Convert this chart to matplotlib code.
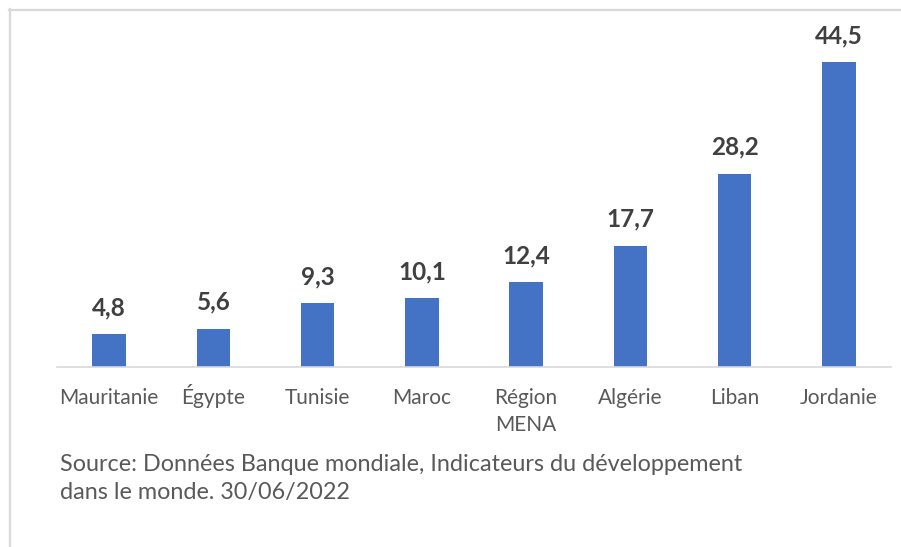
import matplotlib
matplotlib.use("Agg")
import matplotlib.pyplot as plt
from matplotlib.lines import Line2D
from matplotlib.transforms import ScaledTranslation

categories = ["Mauritanie", "Égypte", "Tunisie", "Maroc", "Région\nMENA",
              "Algérie", "Liban", "Jordanie"]
values = [4.8, 5.6, 9.3, 10.1, 12.4, 17.7, 28.2, 44.5]
value_labels = ["4,8", "5,6", "9,3", "10,1", "12,4", "17,7", "28,2", "44,5"]
source_lines = ["Source: Données Banque mondiale, Indicateurs du développement",
                "dans le monde. 30/06/2022"]

plt.rcParams["font.family"] = ["Lato", "DejaVu Sans"]

fig = plt.figure(figsize=(9.01, 5.47), dpi=100)
fig.patch.set_facecolor("white")

W, H = 901, 547
ax = fig.add_axes([57 / W, (H - 367) / H, (891 - 57) / W, (367 - 24) / H])
x = list(range(len(categories)))
ax.bar(x, values, width=0.32, color="#4472C4", zorder=2)
ax.set_xlim(-0.5, len(categories) - 0.5)
ax.set_ylim(0, 50)

for xi, v, lab in zip(x, values, value_labels):
    ax.annotate(lab, (xi, v), xytext=(0, 13.5), textcoords="offset points",
                ha="center", va="baseline", fontsize=17.5, fontweight="bold",
                color="#404040")

# category labels: every line sits on a common baseline grid under the axis
ax.set_xticks([])
ax.set_yticks([])
first_baseline_pt = 26.3
line_step_pt = 20.0
for xi, cat in zip(x, categories):
    for j, part in enumerate(cat.split("\n")):
        off = ScaledTranslation(0, -(first_baseline_pt + j * line_step_pt) / 72,
                                fig.dpi_scale_trans)
        ax.text(xi, 0, part, transform=ax.get_xaxis_transform() + off,
                ha="center", va="baseline", fontsize=15, color="#595959")

for side in ["left", "right", "top"]:
    ax.spines[side].set_visible(False)
ax.spines["bottom"].set_color("#d9d9d9")
ax.spines["bottom"].set_linewidth(1.2)
ax.set_facecolor("none")

for i, line in enumerate(source_lines):
    fig.text(60 / W, 1 - (471 + 28 * i) / H, line, fontsize=16.8,
             color="#595959", ha="left", va="baseline")

# thin frame along top and left edges
fig.add_artist(Line2D([9 / W, 1], [1 - 10 / H, 1 - 10 / H], color="#d9d9d9",
                      lw=1.6, transform=fig.transFigure))
fig.add_artist(Line2D([10 / W, 10 / W], [0, 1 - 9 / H], color="#d9d9d9",
                      lw=1.6, transform=fig.transFigure))

fig.savefig("out.png", dpi=100, facecolor="white")
